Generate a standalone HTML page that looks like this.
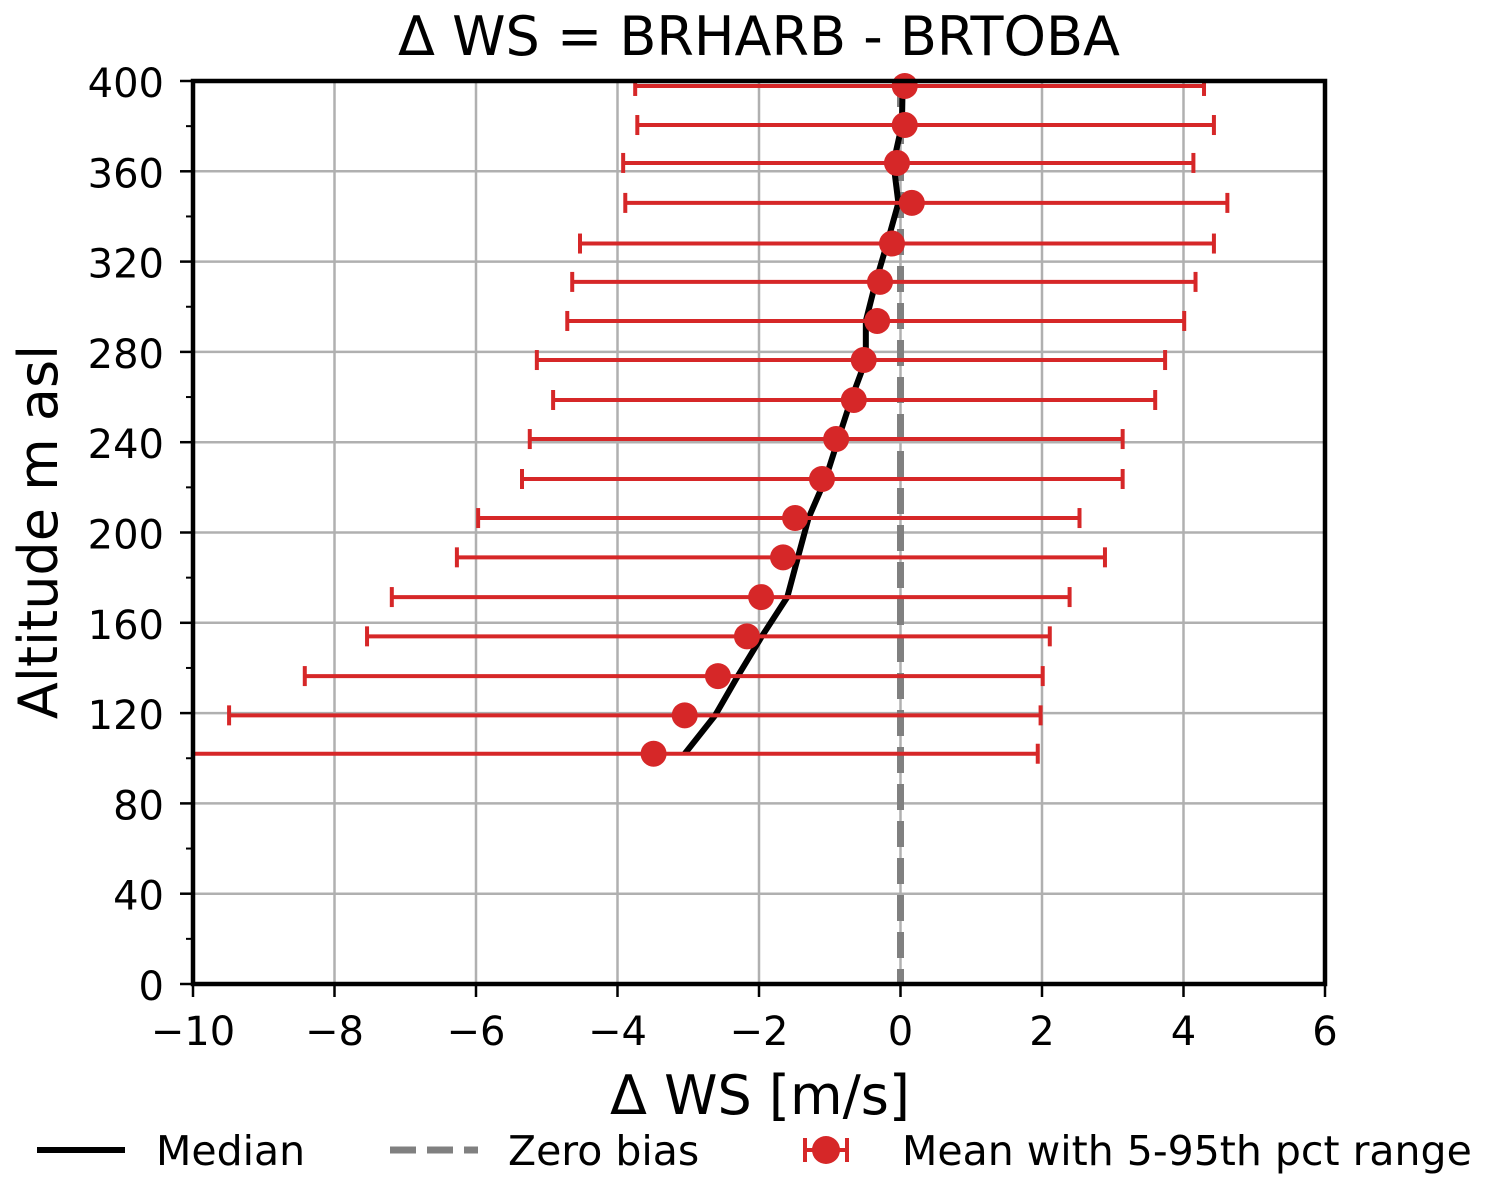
<!DOCTYPE html>
<html><head><meta charset="utf-8"><style>
body{margin:0;background:#fff;}
svg text{font-family:"DejaVu Sans","Liberation Sans",sans-serif;fill:#000;}
</style></head><body>
<svg id="c" width="1493" height="1188" xmlns="http://www.w3.org/2000/svg"></svg>
<script>
const altitudes=[102,119,136.4,154,171.4,189,206.4,223.7,241.4,258.7,276.4,293.7,311,328,346,363.7,380.5,397.8];
const means=[-3.49,-3.05,-2.58,-2.17,-1.97,-1.66,-1.49,-1.11,-0.91,-0.66,-0.52,-0.33,-0.29,-0.12,0.16,-0.05,0.06,0.06];
const lows=[-10.5,-9.49,-8.42,-7.54,-7.19,-6.27,-5.97,-5.35,-5.24,-4.91,-5.14,-4.71,-4.64,-4.53,-3.89,-3.92,-3.72,-3.75];
const highs=[1.94,1.98,2.01,2.11,2.39,2.89,2.53,3.14,3.14,3.6,3.74,4.01,4.17,4.43,4.62,4.14,4.43,4.29];
const medians=[-3.05,-2.62,-2.3,-1.96,-1.6,-1.45,-1.3,-1.06,-0.88,-0.7,-0.49,-0.49,-0.35,-0.19,-0.03,-0.1,0.02,0.03];
const xTicks=[-10,-8,-6,-4,-2,0,2,4,6];
const yTicks=[0,40,80,120,160,200,240,280,320,360,400];
const L=193,R=1325,T=81,B=984;
const sx=v=>L+(v+10)/16*(R-L);
const sy=v=>B-v/400*(B-T);
const svg=document.getElementById('c');const NS='http://www.w3.org/2000/svg';
function mk(t,a,p){const e=document.createElementNS(NS,t);for(const k in a)e.setAttribute(k,a[k]);(p||svg).appendChild(e);return e;}
const clip=mk('clipPath',{id:'pc'});mk('rect',{x:L,y:T,width:R-L,height:B-T},clip);
const grid=mk('g',{});


xTicks.forEach(v=>{mk('line',{x1:sx(v),x2:sx(v),y1:T,y2:B,stroke:'#b0b0b0','stroke-width':2.5},grid);});
yTicks.forEach(v=>{mk('line',{x1:L,x2:R,y1:sy(v),y2:sy(v),stroke:'#b0b0b0','stroke-width':2.5},grid);});
const z=mk('line',{x1:sx(0),x2:sx(0),y1:T,y2:B,stroke:'#808080','stroke-width':7,'stroke-dasharray':'26 11'});


const med=mk('polyline',{points:altitudes.map((a,i)=>sx(medians[i])+','+sy(a)).join(' '),fill:'none',stroke:'#000','stroke-width':6,'stroke-linejoin':'round','clip-path':'url(#pc)'});


const eb=mk('g',{'clip-path':'url(#pc)'});


altitudes.forEach((a,i)=>{const y=sy(a);
mk('line',{x1:sx(lows[i]),x2:sx(highs[i]),y1:y,y2:y,stroke:'#d62728','stroke-width':4},eb);
mk('line',{x1:sx(lows[i]),x2:sx(lows[i]),y1:y-10,y2:y+10,stroke:'#d62728','stroke-width':4},eb);
mk('line',{x1:sx(highs[i]),x2:sx(highs[i]),y1:y-10,y2:y+10,stroke:'#d62728','stroke-width':4},eb);
const c=mk('circle',{cx:sx(means[i]),cy:y,r:13,fill:'#d62728'},svg);


});
const fr=mk('rect',{x:L,y:T,width:R-L,height:B-T,fill:'none',stroke:'#000','stroke-width':4.5});


xTicks.forEach(v=>{mk('line',{x1:sx(v),x2:sx(v),y1:B,y2:B+13,stroke:'#000','stroke-width':2.5});
const t=mk('text',{x:sx(v),y:B+61,'text-anchor':'middle','font-size':40});t.textContent=(v<0?'\u2212'+(-v):v);

});
yTicks.forEach(v=>{mk('line',{x1:L-13,x2:L,y1:sy(v),y2:sy(v),stroke:'#000','stroke-width':2.5});
const t=mk('text',{x:L-29,y:sy(v)+16,'text-anchor':'end','font-size':40});t.textContent=v;

});
for(let v=20;v<400;v+=40)mk('line',{x1:L-7,x2:L,y1:sy(v),y2:sy(v),stroke:'#000','stroke-width':2});
function txt(s,a,name){const t=mk('text',a);t.textContent=s;return t;}
txt('\u0394 WS = BRHARB - BRTOBA',{x:759,y:55,'text-anchor':'middle','font-size':54},'chart-title');
txt('\u0394 WS [m/s]',{x:760,y:1114,'text-anchor':'middle','font-size':54},'x-axis-title');
txt('Altitude m asl',{x:57,y:532,'text-anchor':'middle','font-size':54,transform:'rotate(-90 57 532)'},'y-axis-title');
mk('line',{x1:37,x2:125,y1:1150,y2:1150,stroke:'#000','stroke-width':6});
txt('Median',{x:156,y:1165,'font-size':41},'legend-median');
mk('line',{x1:390,x2:478,y1:1150,y2:1150,stroke:'#808080','stroke-width':7,'stroke-dasharray':'26 11'});
txt('Zero bias',{x:508,y:1165,'font-size':41},'legend-zero-bias');
mk('line',{x1:805,x2:847,y1:1150,y2:1150,stroke:'#d62728','stroke-width':4});
mk('line',{x1:805,x2:805,y1:1138,y2:1162,stroke:'#d62728','stroke-width':4});
mk('line',{x1:847,x2:847,y1:1138,y2:1162,stroke:'#d62728','stroke-width':4});
mk('circle',{cx:826,cy:1150,r:14,fill:'#d62728'});
txt('Mean with 5-95th pct range',{x:902,y:1165,'font-size':41},'legend-mean');
</script>
</body></html>
